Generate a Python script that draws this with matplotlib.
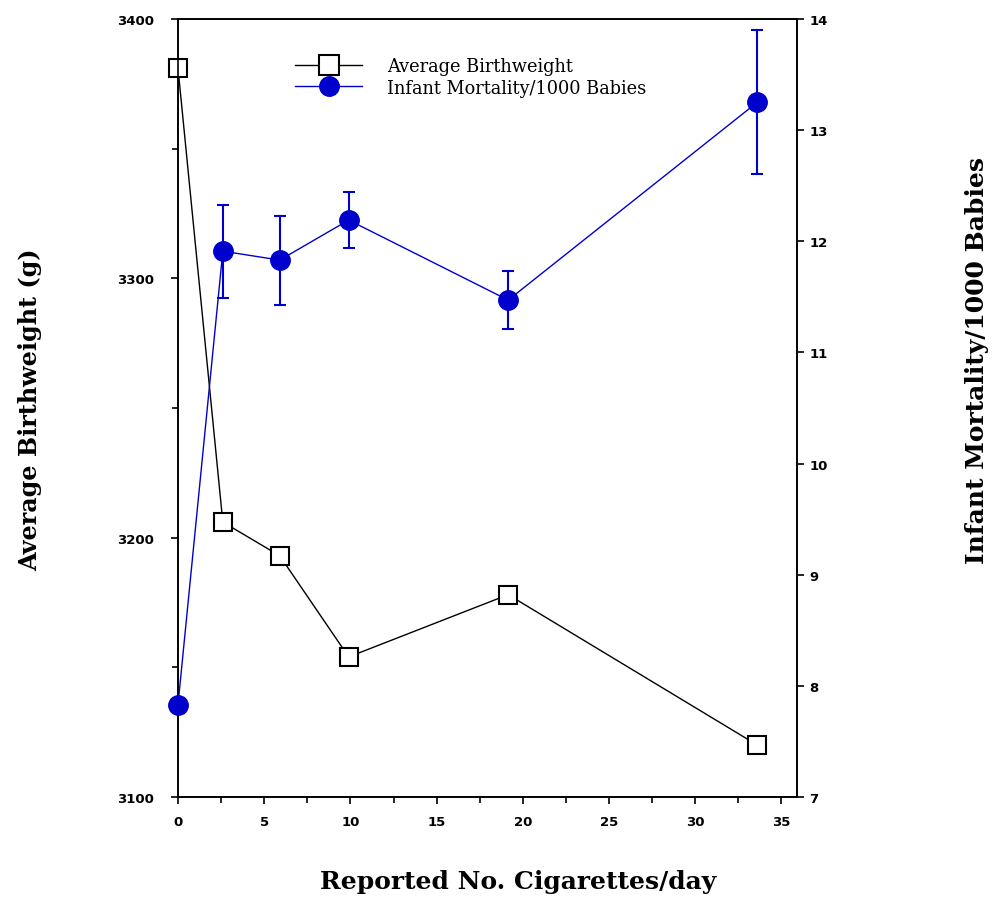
import matplotlib.pyplot as plt
from matplotlib.lines import Line2D
from matplotlib.ticker import MultipleLocator

# datos
cigs_bw = [0, 2.6, 5.9, 9.9, 19.15, 33.6]
birthweight = [3381, 3206, 3193, 3154, 3178, 3120]

cigs_mort = [0, 2.6, 5.9, 9.9, 19.15, 33.6]
mortality = [7.83, 11.91, 11.83, 12.19, 11.47, 13.25]
mort_err = [0, 0.42, 0.40, 0.25, 0.26, 0.65]

blue = '#0000cc'

fig = plt.figure(figsize=(9.96, 9.03), dpi=100)
ax = fig.add_axes([0.1787, 0.1163, 0.6215, 0.8617])
ax2 = ax.twinx()

ax.plot(cigs_bw, birthweight, color='black', lw=1.0, marker='s', markersize=13,
        markerfacecolor='white', markeredgecolor='black', markeredgewidth=1.5,
        zorder=3, clip_on=False)
ax2.errorbar(cigs_mort, mortality, yerr=mort_err, color=blue, lw=1.0, marker='o',
             markersize=14, elinewidth=1.5, capsize=4, capthick=1.5, zorder=4, clip_on=False)

ax.set_xlim(0, 35.9)
ax.set_ylim(3100, 3400)
ax2.set_ylim(7, 14)

ax.xaxis.set_major_locator(MultipleLocator(5))
ax.xaxis.set_minor_locator(MultipleLocator(2.5))
ax.yaxis.set_major_locator(MultipleLocator(100))
ax.yaxis.set_minor_locator(MultipleLocator(50))
ax2.yaxis.set_major_locator(MultipleLocator(1))

ax.tick_params(axis='both', which='major', direction='out', length=5, width=1.2, labelsize=9.5)
ax.tick_params(axis='both', which='minor', direction='out', length=4, width=1.2)
ax.tick_params(axis='y', pad=12)
ax.tick_params(axis='x', top=False, pad=8)
ax2.tick_params(axis='y', direction='out', length=5, width=1.2, labelsize=9.5, pad=4)
for t in ax.get_xticklabels() + ax.get_yticklabels() + ax2.get_yticklabels():
    t.set_fontweight('bold')

for a in (ax, ax2):
    for s in a.spines.values():
        s.set_linewidth(1.2)

lab = dict(family='DejaVu Serif', fontweight='bold', fontsize=18)
ax.set_xlabel('Reported No. Cigarettes/day', **lab)
ax.set_ylabel('Average Birthweight (g)', family='DejaVu Serif', fontweight='bold', fontsize=17.2)
ax2.set_ylabel('Infant Mortality/1000 Babies', **lab)
# posiciones de las etiquetas como en la imagen original
ax.xaxis.set_label_coords(0.549, -0.093)
ax.yaxis.set_label_coords(-0.22, 0.499)
ax2.yaxis.set_label_coords(1.272, 0.562)

h1 = Line2D([], [], color='black', lw=1.0, marker='s', markersize=14,
            markerfacecolor='white', markeredgewidth=1.5)
h2 = Line2D([], [], color=blue, lw=1.0, marker='o', markersize=14)
ax2.legend([h1, h2], ['Average Birthweight', 'Infant Mortality/1000 Babies'],
           loc='upper left', bbox_to_anchor=(0.1635, 0.9715), frameon=False,
           prop={'family': 'DejaVu Serif', 'size': 12.8}, handlelength=3.75,
           labelspacing=0.2, handletextpad=1.4)

fig.savefig('out.png', dpi=100)
